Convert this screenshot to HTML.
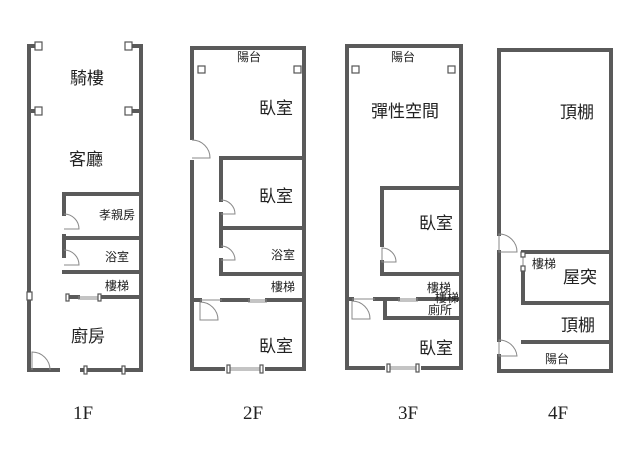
<!DOCTYPE html>
<html><head><meta charset="utf-8"><style>
html,body{margin:0;padding:0;background:#fff;}
svg{display:block;}
.w{stroke:#5a5a5a;stroke-width:4;fill:none;stroke-linecap:square;}
.t{stroke:#888;stroke-width:1;fill:none;}
.p{stroke:#555;stroke-width:1.2;fill:#fff;}
text{font-family:"Liberation Sans","Noto Sans CJK TC",sans-serif;fill:#222;text-anchor:middle;}
.b{font-size:17px;}
.s{font-size:12px;}
.f{font-family:"Liberation Serif",serif;font-size:19px;}
</style></head><body>
<svg width="640" height="461" viewBox="0 0 640 461">
<!-- 1F -->
<path class="w" d="M29 46 H36 M29 46 V370 H58 M82 370 H141 M141 370 V46 H132"/>
<path class="w" d="M29 111 H36 M132 111 H141"/>
<rect class="p" x="35" y="42" width="7" height="8"/><rect class="p" x="125" y="42" width="7" height="8"/>
<rect class="p" x="35" y="107" width="7" height="8"/><rect class="p" x="125" y="107" width="7" height="8"/>
<path class="w" d="M141 194 H64 V214 M64 236 V238 H141 M64 238 V256 M64 272 H141 M69 297 H78 M101 297 H141"/>
<path class="t" d="M64 214 A15 15 0 0 1 79 229 H64 M64 250 A15 15 0 0 1 79 265 H64 M78 297 H101 M78 299 H101"/>
<rect class="p" x="66" y="294" width="3" height="7"/><rect class="p" x="98" y="294" width="3" height="7"/>
<rect class="p" x="27" y="292" width="5" height="8"/>
<path class="t" d="M32 370 V352 A18 18 0 0 1 50 370"/>
<rect class="p" x="84" y="366" width="3" height="8"/><rect class="p" x="122" y="366" width="3" height="8"/>
<text class="b" x="87" y="84">騎樓</text>
<text class="b" x="86" y="165">客廳</text>
<text class="s" x="117" y="219">孝親房</text>
<text class="s" x="117" y="261">浴室</text>
<text class="s" x="117" y="290">樓梯</text>
<text class="b" x="88" y="342">廚房</text>
<!-- 2F -->
<path class="w" d="M192 48 H304 V369 H192 V48 M221 158 H304 M221 158 V200 M221 214 V228 H304 M221 228 V246 M221 260 V274 H304 M192 300 H200 M222 300 H248 M267 300 H304"/>
<rect fill="#fff" x="190" y="140" width="5" height="20"/>
<path class="t" d="M192 140 A18 18 0 0 1 210 158 H192 M221 200 A14 14 0 0 1 235 214 H221 M221 246 A14 14 0 0 1 235 260 H221 M200 300 H222 M200 302 A18 18 0 0 1 218 320 H200 V302 M248 300 H267 M248 302 H267"/>
<rect fill="#fff" x="225" y="366" width="40" height="6"/>
<path class="t" d="M228 368 H262 M228 370 H262"/>
<rect class="p" x="227" y="365" width="3" height="8"/><rect class="p" x="260" y="365" width="3" height="8"/>
<rect class="p" x="198" y="66" width="7" height="7"/><rect class="p" x="294" y="66" width="7" height="7"/>
<text class="s" x="249" y="61">陽台</text>
<text class="b" x="276" y="114">臥室</text>
<text class="b" x="276" y="202">臥室</text>
<text class="s" x="283" y="259">浴室</text>
<text class="s" x="283" y="291">樓梯</text>
<text class="b" x="276" y="352">臥室</text>
<!-- 3F -->
<path class="w" d="M347 46 H461 V368 H347 V46 M461 188 H382 V245 M382 262 V274 H461 M347 299 H352 M375 299 H398 M418 299 H461 M385 299 V318 H461"/>
<path class="t" d="M382 262 V248 A14 14 0 0 1 396 262 Z M352 299 H375 M352 301 A18 18 0 0 1 370 319 H352 V301 M398 299 H418 M398 301 H418"/>
<rect fill="#fff" x="385" y="365" width="36" height="6"/>
<path class="t" d="M388 367 H418 M388 369 H418"/>
<rect class="p" x="387" y="364" width="3" height="8"/><rect class="p" x="416" y="364" width="3" height="8"/>
<rect class="p" x="352" y="66" width="7" height="7"/><rect class="p" x="448" y="66" width="7" height="7"/>
<text class="s" x="403" y="61">陽台</text>
<text class="b" x="405" y="117">彈性空間</text>
<text class="b" x="436" y="229">臥室</text>
<text class="s" x="439" y="292">樓梯</text>
<text class="s" x="447" y="302">樓梯</text>
<text class="s" x="440" y="314">廁所</text>
<text class="b" x="436" y="354">臥室</text>
<text class="f" x="83" y="419">1F</text>
<text class="f" x="253" y="419">2F</text>
<text class="f" x="408" y="419">3F</text>
<text class="f" x="558" y="419">4F</text>
<!-- 4F -->
<path class="w" d="M499 50 H611 V371 H499 V356 M499 340 V252 M499 234 V50 M523 252 H611 M523 270 V303 H611 M523 342 H611"/>
<path class="t" d="M499 252 V234 A18 18 0 0 1 517 252 Z M499 356 V340 A18 18 0 0 1 517 356 Z M523 252 V270"/>
<rect class="p" x="521" y="252" width="4" height="5"/><rect class="p" x="521" y="266" width="4" height="5"/>
<text class="b" x="577" y="118">頂棚</text>
<text class="s" x="544" y="268">樓梯</text>
<text class="b" x="580" y="283">屋突</text>
<text class="b" x="578" y="331">頂棚</text>
<text class="s" x="557" y="363">陽台</text>
</svg>
</body></html>
